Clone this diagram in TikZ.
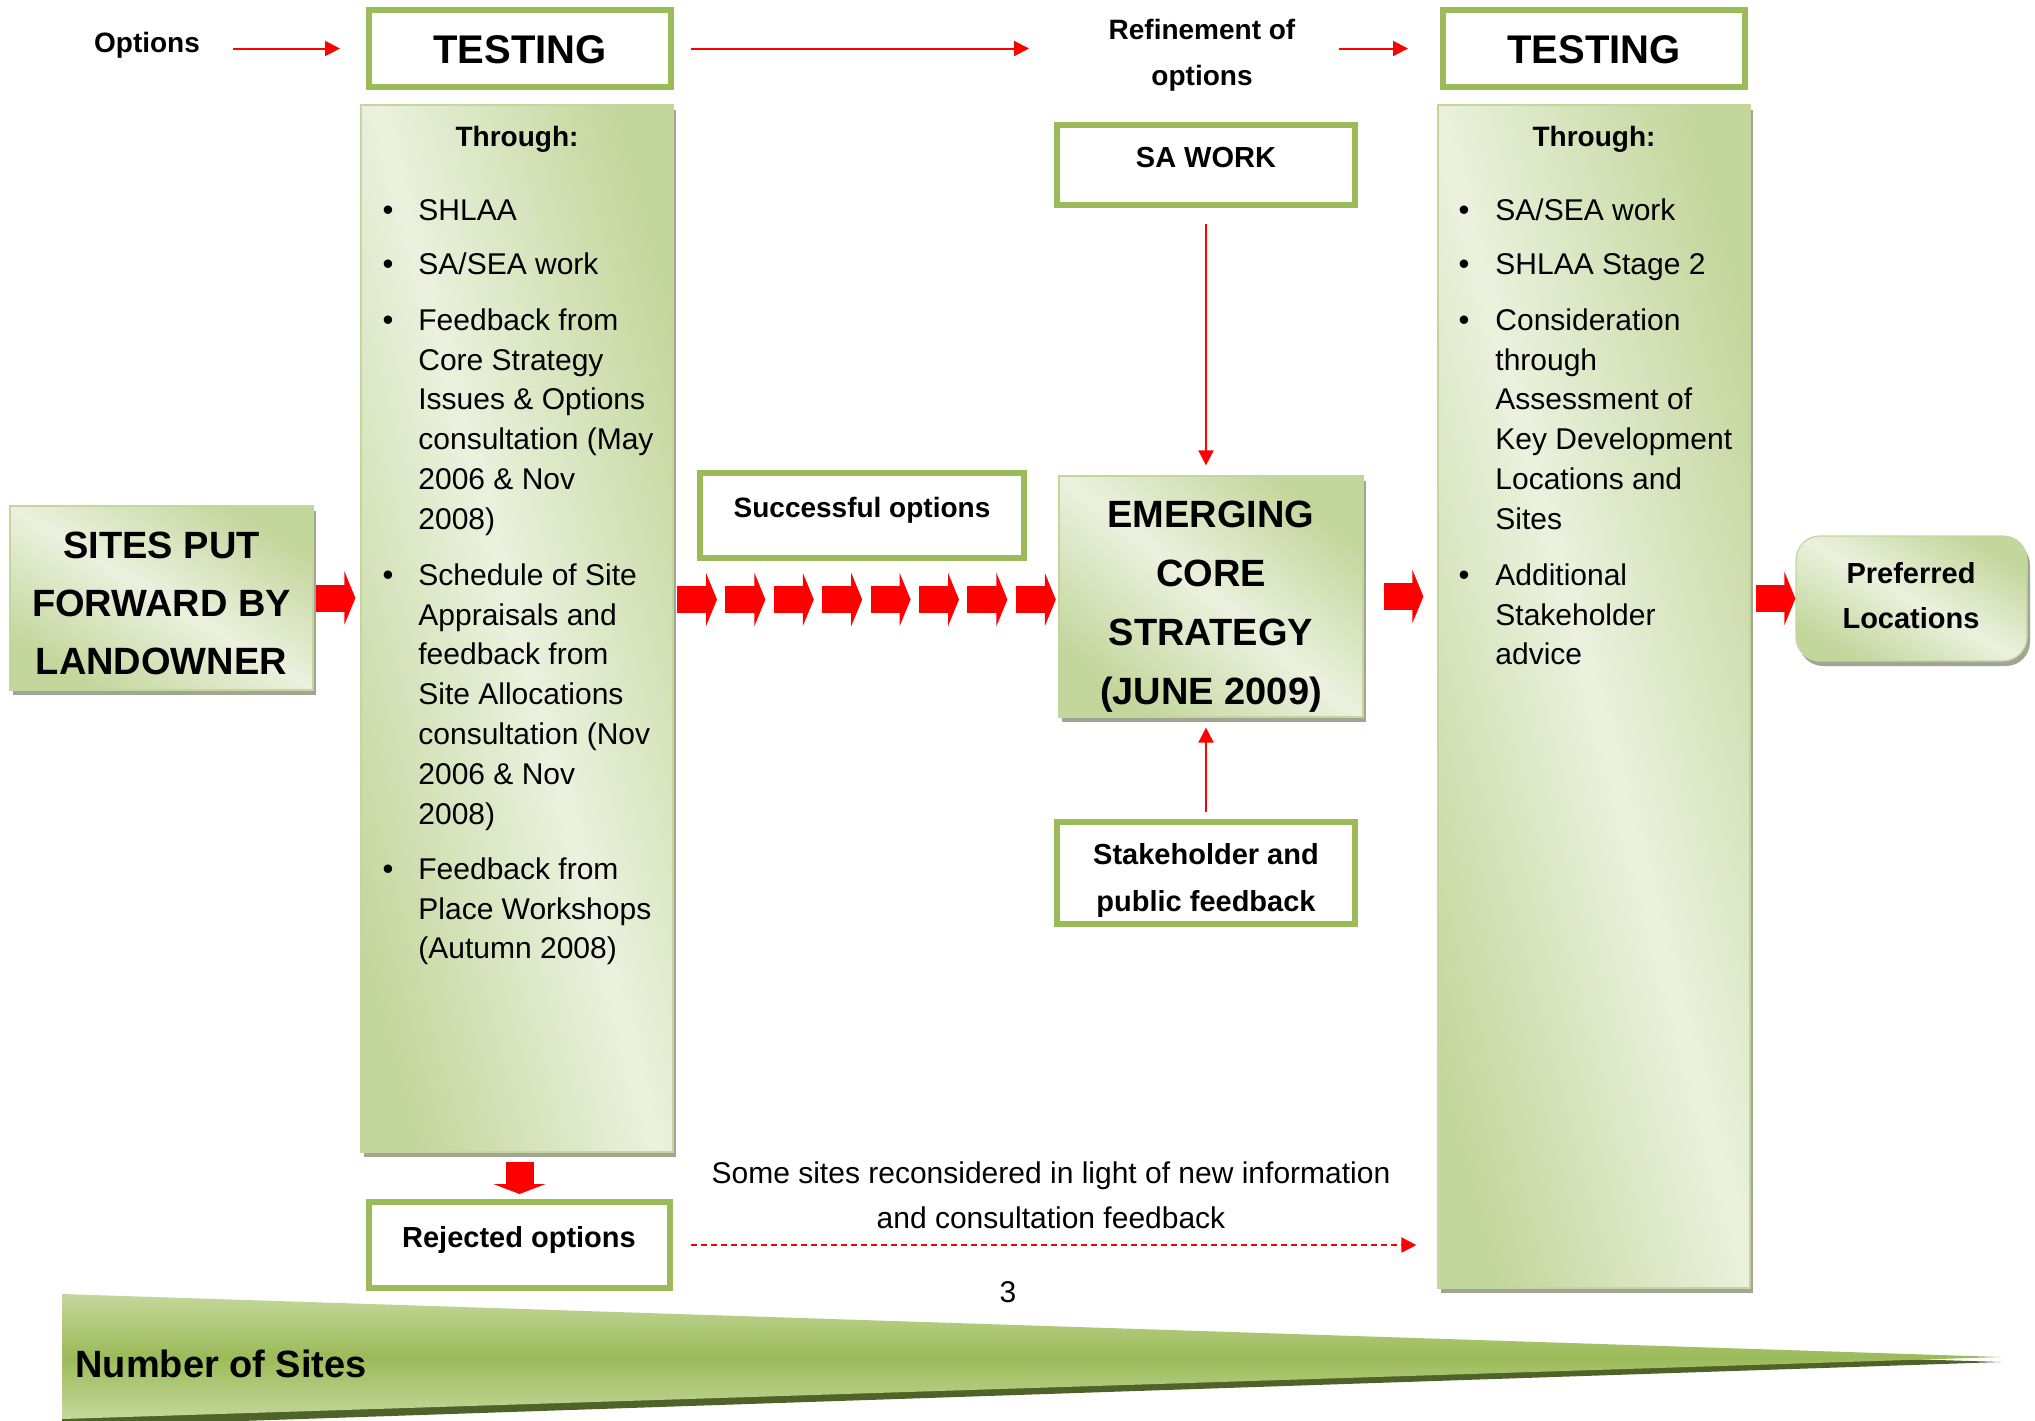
\documentclass[tikz,border=0pt]{standalone}
\usepackage{fontspec}
\setmainfont{Liberation Sans}
\usetikzlibrary{arrows.meta,fit,shadows,calc}
\definecolor{gborder}{HTML}{9BBB59}
\definecolor{glight}{HTML}{EBF1DE}
\definecolor{gdark}{HTML}{C3D69B}
\definecolor{gwedge}{HTML}{C4D79B}
\definecolor{gdeep}{HTML}{4F6228}
\definecolor{gshadow}{HTML}{A2A596}
\definecolor{myred}{HTML}{FF0000}
\begin{document}
\begin{tikzpicture}[x=0.5pt,y=-0.5pt,
  framebox/.style={draw=gborder, line width=3pt, fill=white, inner sep=0pt},
  gradbox/.style={draw=gdark, line width=0.6pt, inner sep=0pt,
    top color=gdark, bottom color=gdark, middle color=glight, shading angle=#1,
    drop shadow={shadow xshift=1.5pt, shadow yshift=-2.5pt, fill=gshadow, opacity=1}},
  gradbox/.default=-60,
  txt/.style={inner sep=0pt, text=black},
  bodytext/.style={txt, font=\fontsize{15}{19.9}\selectfont, align=left, anchor=north west},
  bulletnode/.style={txt, font=\fontsize{15.5}{19.9}\selectfont, anchor=base},
  boldmid/.style={txt, font=\fontsize{14.5}{23}\selectfont\bfseries},
  bigtitle/.style={txt, font=\fontsize{19}{29}\selectfont\bfseries, align=center, anchor=north},
  thinarr/.style={draw=myred, line width=1pt, -{Triangle[length=7.5pt,width=7.5pt]}},
  blockarr/.style={draw=myred, line width=13.5pt, -{Triangle[length=5.5pt,width=26.5pt]}},
]
\useasboundingbox (0,0) rectangle (2035,1420);
\fill[white] (0,0) rectangle (2035,1420);

% ---------- wedge "Number of Sites"
\fill[gdeep] (62,1300) -- (2001,1362) -- (62,1427) -- cycle;
\shade[top color=gwedge, bottom color=gwedge, middle color=gborder]
  (62,1294) -- (2001,1357) -- (62,1419) -- cycle;
\node[txt, font=\fontsize{19}{23}\selectfont\bfseries, anchor=base west] (nsites) at (75,1377.6) {Number of Sites};

% ---------- gradient boxes
\node[gradbox=-75, fit={(361,105) (673,1152)}] (panel1) {};
\node[gradbox=-75, fit={(1438,105) (1750,1288)}] (panel2) {};
\node[gradbox=-31, fit={(10,506) (313,690)}] (sites) {};
\node[gradbox=-39, fit={(1059,476) (1363,717)}] (emerging) {};
\node[gradbox=-29, rounded corners=12pt, fit={(1796,536) (2027,661)}] (preferred) {};

% ---------- framed boxes
\node[framebox, fit={(369,10) (671,87)}] (test1) {};
\node[framebox, fit={(1443,10) (1745,87)}] (test2) {};
\node[framebox, fit={(1057,125) (1355,205)}] (sawork) {};
\node[framebox, fit={(700,473) (1024,558)}] (success) {};
\node[framebox, fit={(1057,822) (1355,924)}] (stake) {};
\node[framebox, fit={(369,1202) (670,1288)}] (rejected) {};

% ---------- texts of top row
\node[txt, font=\fontsize{14}{17}\selectfont\bfseries, anchor=base] (opt) at (147,52) {Options};
\node[txt, font=\fontsize{20}{24}\selectfont\bfseries, anchor=base] (test1t) at (520,63.3) {TESTING};
\node[txt, font=\fontsize{20}{24}\selectfont\bfseries, anchor=base] (test2t) at (1594,63.3) {TESTING};
\node[txt, font=\fontsize{14}{23}\selectfont\bfseries, align=center, anchor=north] (refine) at (1202,6.8) {\strut Refinement of\\options};

% ---------- box texts
\node[boldmid, anchor=base] (saworkt) at (1206,167.4) {SA WORK};
\node[boldmid, font=\fontsize{14}{23}\selectfont\bfseries, anchor=base] (successt) at (862,517.4) {Successful options};
\node[boldmid, anchor=base] (rejectedt) at (519,1247.4) {Rejected options};
\node[boldmid, font=\fontsize{14.5}{23.5}\selectfont\bfseries, align=center, anchor=north] (staket) at (1206,831.5) {\strut Stakeholder and\\public feedback};
\node[boldmid, font=\fontsize{14.5}{22.5}\selectfont\bfseries, align=center, anchor=north] (preferredt) at (1911,551.9) {\strut Preferred\\Locations};
\node[bigtitle] (sitest) at (161.5,517) {\strut SITES PUT\\FORWARD BY\\LANDOWNER};
\node[bigtitle, font=\fontsize{19}{29.5}\selectfont\bfseries] (emergingt) at (1211,485.3) {\strut EMERGING\\CORE\\STRATEGY\\(JUNE 2009)};

% ---------- panel 1 content
\node[txt, font=\fontsize{14}{17}\selectfont\bfseries, anchor=base] (thr1) at (517,146) {Through:};
\node[bulletnode] (p1b1) at (388,220) {•};
\node[bodytext] (p1i1) at (418,192.1) {\strut SHLAA};
\node[bulletnode] (p1b2) at (388,274) {•};
\node[bodytext] (p1i2) at (418,246.1) {\strut SA/SEA work};
\node[bulletnode] (p1b3) at (388,330) {•};
\node[bodytext] (p1i3) at (418,302.1) {\strut Feedback from\\Core Strategy\\Issues \& Options\\consultation (May\\2006 \& Nov\\2008)};
\node[bulletnode] (p1b4) at (388,585) {•};
\node[bodytext] (p1i4) at (418,557.1) {\strut Schedule of Site\\Appraisals and\\feedback from\\Site Allocations\\consultation (Nov\\2006 \& Nov\\2008)};
\node[bulletnode] (p1b5) at (388,879) {•};
\node[bodytext] (p1i5) at (418,851.1) {\strut Feedback from\\Place Workshops\\(Autumn 2008)};

% ---------- panel 2 content
\node[txt, font=\fontsize{14}{17}\selectfont\bfseries, anchor=base] (thr2) at (1594,146) {Through:};
\node[bulletnode] (p2b1) at (1464,220) {•};
\node[bodytext] (p2i1) at (1495,192.1) {\strut SA/SEA work};
\node[bulletnode] (p2b2) at (1464,274) {•};
\node[bodytext] (p2i2) at (1495,246.1) {\strut SHLAA Stage 2};
\node[bulletnode] (p2b3) at (1464,330) {•};
\node[bodytext] (p2i3) at (1495,302.1) {\strut Consideration\\through\\Assessment of\\Key Development\\Locations and\\Sites};
\node[bulletnode] (p2b4) at (1464,585) {•};
\node[bodytext] (p2i4) at (1495,557.1) {\strut Additional\\Stakeholder\\advice};

% ---------- caption and page number
\node[txt, font=\fontsize{15}{22.5}\selectfont, align=center, anchor=north] (caption) at (1051,1151.2) {\strut Some sites reconsidered in light of new information\\and consultation feedback};
\node[txt, font=\fontsize{15}{18}\selectfont, anchor=base] (pagenum) at (1008,1302) {3};

% ---------- thin connectors
\coordinate (r2) at (1339,48.5);
\draw[thinarr, shorten <=16.5pt, shorten >=13pt] (opt.east |- test1.west) -- (test1.west);
\draw[thinarr, shorten <=8.5pt, shorten >=12.5pt] (test1.east) -- (test1.east -| sawork.west);
\draw[thinarr, shorten >=16pt] (r2) -- (test2.west);
\draw[thinarr, shorten <=8pt, shorten >=5pt] (sawork.south) -- (sawork.south |- emerging.north);
\draw[thinarr, shorten <=3.5pt, shorten >=5pt] (stake.north) -- (stake.north |- emerging.south);
\draw[thinarr, dash pattern=on 3pt off 2pt, shorten <=9pt, shorten >=10.5pt] (rejected.east) -- (rejected.east -| panel2.west);

% ---------- block arrows
\draw[blockarr, shorten <=1pt, shorten >=2.5pt] (sites.east) -- (sites.east -| panel1.west);
\foreach \k in {0,...,7}{
  \coordinate (chs\k) at ({677+48.4*\k},599.5);
  \coordinate (che\k) at ({717+48.4*\k},599.5);
  \draw[blockarr] (chs\k) -- (che\k);
}
\draw[blockarr, shorten <=10pt, shorten >=7pt] (emerging.east) -- (emerging.east -| panel2.west);
\draw[blockarr, shorten <=2.5pt] (preferred.west -| panel2.east) -- (preferred.west);
\draw[blockarr, line width=14pt, -{Triangle[length=5pt,width=26pt]}, shorten <=4.5pt, shorten >=2.5pt] (rejected.north |- panel1.south) -- (rejected.north);
\end{tikzpicture}
\end{document}
